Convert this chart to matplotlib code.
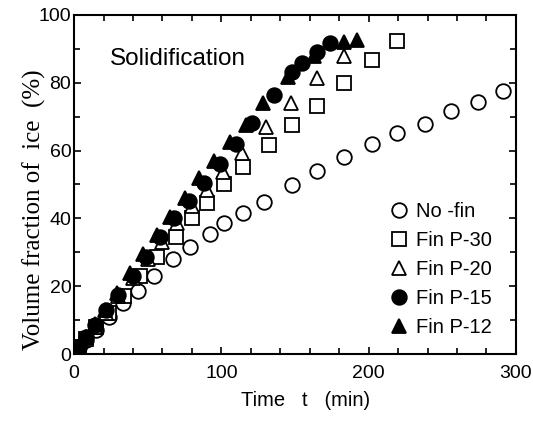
import matplotlib
matplotlib.use("Agg")
import matplotlib.pyplot as plt
from matplotlib.ticker import MultipleLocator

plt.rcParams['font.family'] = ['Liberation Sans', 'DejaVu Sans']

# Solidification progress: volume fraction of ice vs time
t_nofin = [3, 8, 15, 24, 33, 43.5, 54, 67, 79, 92, 102, 115, 129, 148, 165, 183, 202, 219, 238, 256, 274, 291]
v_nofin = [2, 4, 7, 11, 15, 18.6, 23, 28, 31.6, 35.4, 38.6, 41.6, 44.8, 49.9, 54, 58, 62, 65.2, 67.8, 71.7, 74.3, 77.6]

t_p30 = [3, 8, 15, 24, 34, 45, 56, 69, 80, 90, 102, 115, 132, 148, 165, 183, 202, 219]
v_p30 = [2, 4.5, 8, 12, 17, 23, 28.7, 34.6, 40, 44.5, 50, 55, 61.7, 67.5, 73, 80, 86.7, 92.3]

t_p20 = [3, 8, 14, 22, 30, 40, 50, 60, 70, 80, 90, 101, 114, 130, 147, 165, 183]
v_p20 = [2, 5, 8, 12, 17, 22.5, 28, 33, 38.5, 43.5, 48.5, 53.7, 59.2, 67, 74, 81.3, 88]

t_p15 = [3, 8, 14, 22, 30, 40, 49, 58, 68, 78, 88, 99, 110, 121, 136, 148, 155, 165, 174]
v_p15 = [2, 5, 8.5, 13, 17.5, 23, 28.5, 34.5, 40, 45, 50.5, 56, 62, 68, 76.4, 83, 85.8, 89, 91.7]

t_p12 = [3, 8, 14, 21, 29, 38, 47, 56, 65, 75, 85, 95, 106, 117, 128, 145, 163, 183, 192]
v_p12 = [2, 5, 9, 13, 18, 24, 29.5, 35, 40.5, 46, 52, 57, 62.5, 67.5, 74, 81.7, 88, 92, 92.6]

labels = ["No -fin", "Fin P-30", "Fin P-20", "Fin P-15", "Fin P-12"]

fig = plt.figure(figsize=(5.33, 4.23), dpi=100)
ax = fig.add_axes([0.139, 0.163, 0.829, 0.802])

series = [
    (t_nofin, v_nofin, 'o', 'white', 10.5),
    (t_p30, v_p30, 's', 'white', 9.5),
    (t_p20, v_p20, '^', 'white', 10.5),
    (t_p15, v_p15, 'o', 'black', 10.5),
    (t_p12, v_p12, '^', 'black', 10.5),
]
for (t, v, m, fc, ms), lab in zip(series, labels):
    ax.plot(t, v, linestyle='none', marker=m, markersize=ms,
            markerfacecolor=fc, markeredgecolor='black', markeredgewidth=1.3,
            label=lab)

ax.set_xlim(0, 300)
ax.set_ylim(0, 100)
ax.xaxis.set_major_locator(MultipleLocator(100))
ax.xaxis.set_minor_locator(MultipleLocator(20))
ax.yaxis.set_major_locator(MultipleLocator(20))
ax.yaxis.set_minor_locator(MultipleLocator(10))
ax.tick_params(which='both', direction='in', top=True, right=True,
               width=1.2, labelsize=14)
ax.tick_params(which='major', length=5)
ax.tick_params(which='minor', length=4)
ax.tick_params(axis='x', which='major', pad=8)
ax.tick_params(axis='y', which='major', pad=2)
for s in ax.spines.values():
    s.set_linewidth(1.5)

ax.set_xlabel("Time   t   (min)", fontsize=14.5)
ax.xaxis.set_label_coords(0.523, -0.109)
ax.set_ylabel("Volume fraction of  ice  (%)", fontsize=18,
              family=['Liberation Serif', 'DejaVu Serif'])
ax.yaxis.set_label_coords(-0.064, 0.425)

ax.text(24.4, 85.2, "Solidification", fontsize=17.5, va='baseline', ha='left')

ax.legend(loc='lower right', bbox_to_anchor=(0.945, 0.05), frameon=False,
          fontsize=14.5, handletextpad=0.1, labelspacing=0.5,
          borderpad=0, borderaxespad=0, handlelength=1.5)

fig.savefig("out.png", dpi=100)
